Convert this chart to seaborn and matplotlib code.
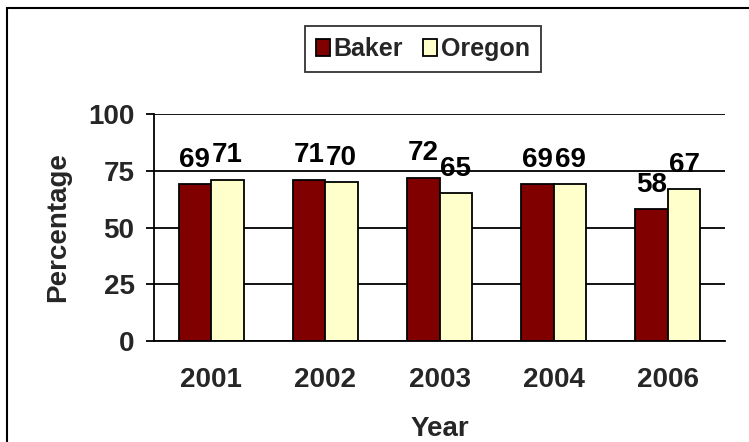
import matplotlib
matplotlib.use("Agg")
import matplotlib.pyplot as plt
import seaborn as sns
import pandas as pd
from matplotlib.patches import Rectangle

years = ["2001", "2002", "2003", "2004", "2006"]
baker = [69, 71, 72, 69, 58]
oregon = [71, 70, 65, 69, 67]
series_names = ["Baker", "Oregon"]
colors = {"Baker": "#800000", "Oregon": "#FFFFCC"}
y_ticks = [0, 25, 50, 75, 100]

df = pd.DataFrame({
    "Year": years * 2,
    "Percentage": baker + oregon,
    "Series": [series_names[0]] * len(years) + [series_names[1]] * len(years),
})

sns.set_theme(style="white")
plt.rcParams["font.family"] = ["Liberation Sans", "DejaVu Sans"]
plt.rcParams["font.weight"] = "bold"

FS = 20

fig = plt.figure(figsize=(7.49, 4.42), dpi=100)
ax = fig.add_axes([154 / 749, 1 - 341 / 442, (725 - 154) / 749, (341 - 114) / 442])

sns.barplot(data=df, x="Year", y="Percentage", hue="Series", order=years,
            hue_order=series_names, palette=colors, width=0.57,
            edgecolor="black", linewidth=1.3, saturation=1, ax=ax, legend=True)

for cont in ax.containers:
    for rect in cont:
        h = rect.get_height()
        ax.annotate(f"{h:.0f}", (rect.get_x() + rect.get_width() / 2, h),
                    xytext=(0, 12.5), textcoords="offset points",
                    ha="center", va="baseline", fontsize=FS, fontweight="bold",
                    color="black")

ax.set_ylim(0, 100)
ax.set_xlim(-0.5, len(years) - 0.5)
ax.set_yticks(y_ticks)
ax.set_yticklabels([str(t) for t in y_ticks], fontsize=FS, fontweight="bold")
ax.set_xticks(range(len(years)))
ax.set_xticklabels(years, fontsize=FS, fontweight="bold")
ax.set_xticks([i - 0.5 for i in range(len(years) + 1)], minor=True)
ax.tick_params(axis="x", which="major", length=0, pad=19)
ax.tick_params(axis="x", which="minor", length=5.5, width=1.3, color="black", direction="out")
ax.tick_params(axis="y", length=6, width=1.3, color="black", direction="out", pad=8, left=True)
ax.yaxis.grid(True, color="black", linewidth=1.3)
ax.xaxis.grid(False)
ax.set_axisbelow(True)
for s in ["top", "right"]:
    ax.spines[s].set_visible(False)
for s in ["left", "bottom"]:
    ax.spines[s].set_color("black")
    ax.spines[s].set_linewidth(1.3)

ax.set_xlabel("Year", fontsize=FS, fontweight="bold", labelpad=16)
ax.set_ylabel("Percentage", fontsize=FS, fontweight="bold", labelpad=12)

handles, labels = ax.get_legend_handles_labels()
ax.legend_.remove()
leg = fig.legend(handles, labels, loc="center", bbox_to_anchor=(423 / 749, 1 - 49 / 442),
                 ncol=2, frameon=True, fancybox=False, shadow=False,
                 prop={"size": 18, "weight": "bold"}, handlelength=0.55, handleheight=0.65,
                 handletextpad=0.15, columnspacing=0.8, borderpad=0.45, borderaxespad=0)
leg.get_frame().set_edgecolor("black")
leg.get_frame().set_linewidth(1.3)
leg.get_frame().set_boxstyle("square", pad=0)

fig.patches.append(Rectangle((7 / 749, -0.05), 1.0, 1 - 8 / 442 + 0.05,
                             transform=fig.transFigure, fill=False,
                             edgecolor="black", linewidth=1.5))

fig.savefig("out.png", dpi=100)
